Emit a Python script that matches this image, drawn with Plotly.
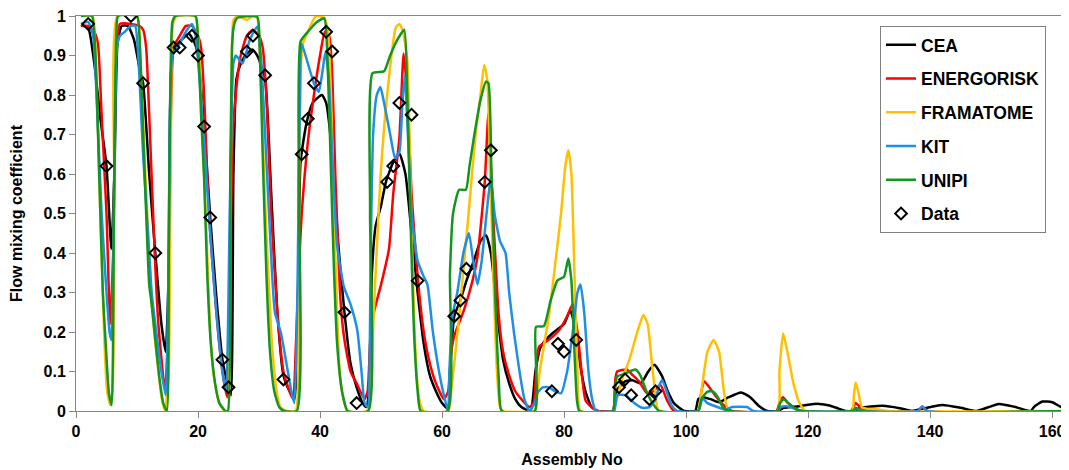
import plotly.graph_objects as go

# ---------------- data ----------------
cea_x = [0.8, 2, 3, 4, 5, 5.8, 6.3, 6.8, 7.5, 8.5, 9.5, 10.5, 11, 12, 13, 14, 14.7,
         15.2, 15.8, 17, 18.5, 19.5, 20, 21, 22, 23, 24, 25, 25.4,
         25.8, 26.3, 27, 28, 28.9, 29.5, 30, 31, 32, 33, 34, 35, 35.8,
         36.2, 36.8, 37.8, 38.8, 40.3, 41, 42, 43, 44, 45, 46, 47, 47.6,
         48, 48.5, 49.1, 50, 50.8, 52, 53, 54, 55, 56, 57, 58, 59, 60, 61,
         61.3, 62, 63, 64, 65.2, 66.3, 67.2, 68, 69.1, 70, 71, 72, 73, 74.5,
         75.3, 76.1, 77, 78.1, 80, 81, 82, 82.7, 83.5, 84.5, 85.5,
         88, 88.5, 89, 90, 91.2, 92.6, 93.8, 94.8, 96, 97, 98, 99.7,
         101.5, 102, 102.7, 104, 105.4, 107, 109, 110.5, 112, 113.3,
         115, 116, 118.5, 120, 121.8, 123.5, 125, 126.2,
         127.5, 128.5, 132.2, 135, 137, 138, 142, 145, 147.5,
         148.5, 151.3, 154, 156.5, 157, 158.4, 160, 161.5, 163]
cea_y = [0.977, 0.97, 0.88, 0.74, 0.62, 0.41, 0.6, 0.93, 0.975, 0.975, 0.94, 0.86, 0.83, 0.6, 0.40, 0.22, 0.15,
         0.35, 0.9, 0.935, 0.955, 0.93, 0.90, 0.72, 0.49, 0.29, 0.13, 0.06, 0.04,
         0.6, 0.84, 0.88, 0.905, 0.915, 0.905, 0.89, 0.84, 0.55, 0.25, 0.09, 0.05, 0.03,
         0.1, 0.63, 0.73, 0.78, 0.80, 0.78, 0.65, 0.42, 0.25, 0.12, 0.06, 0.02, 0.01,
         0.05, 0.35, 0.467, 0.52, 0.58, 0.63, 0.652, 0.6, 0.45, 0.3, 0.17, 0.09, 0.05, 0.02, 0.005,
         0.1, 0.24, 0.28, 0.33, 0.38, 0.43, 0.445, 0.4, 0.24, 0.13, 0.07, 0.03, 0.01, 0.0,
         0.1, 0.16, 0.18, 0.197, 0.22, 0.255, 0.2, 0.112, 0.05, 0.01, 0.0,
         0.0, 0.05, 0.06, 0.075, 0.078, 0.07, 0.1, 0.117, 0.09, 0.05, 0.02, 0.0,
         0.0, 0.03, 0.035, 0.03, 0.022, 0.035, 0.047, 0.035, 0.012, 0.0,
         0.0, 0.008, 0.012, 0.016, 0.018, 0.014, 0.006, 0.0,
         0.0, 0.008, 0.013, 0.007, 0.0, 0.003, 0.015, 0.008, 0.0,
         0.004, 0.018, 0.01, 0.0, 0.01, 0.024, 0.022, 0.01, 0.004]

ene_x = [0.8, 2, 3, 3.6, 4.2, 5, 5.6, 6.1, 6.6, 7.2, 9, 10.4, 11, 11.5, 12, 12.9, 13.5, 14.6,
         15.1, 15.5, 16, 17, 18, 19, 20, 20.5, 21, 21.5, 22, 23, 24, 24.8,
         25.2, 25.7, 26.3, 27, 28, 29, 30, 30.6, 31.2, 32, 33, 34, 35, 35.6,
         36, 36.5, 37, 38, 39, 40, 40.8, 41.5, 42, 42.5, 43.4, 44, 45, 46, 47.3,
         47.8, 48.3, 48.9, 50, 51.3, 52, 53, 53.7, 54.3, 55, 56, 57, 58, 59, 60.3,
         61, 61.5, 62, 63.6, 65, 65.8, 67, 67.6, 68.2, 69.3, 70, 71, 72, 73, 74.3,
         75, 75.5, 75.9, 77.5, 79.2, 80.5, 81.4, 82.2, 83, 83.5, 84.5, 85.5,
         88, 88.4, 88.7, 90.3, 91.3, 92.3, 93.6, 94.6, 95.8, 96.8, 98,
         102, 102.5, 103, 103.8, 105, 106.5, 107.5,
         114.8, 115.4, 115.9, 116.7, 118, 119,
         127, 127.8, 128.8, 130, 138, 138.7, 139.5, 163]
ene_y = [0.975, 0.975, 0.96, 0.93, 0.75, 0.5, 0.22, 0.4, 0.9, 0.98, 0.98, 0.975, 0.965, 0.92, 0.75, 0.40, 0.22, 0.05,
         0.2, 0.7, 0.92, 0.95, 0.975, 0.975, 0.95, 0.92, 0.8, 0.6, 0.45, 0.25, 0.1, 0.035,
         0.3, 0.7, 0.82, 0.9, 0.95, 0.965, 0.95, 0.92, 0.8, 0.5, 0.25, 0.1, 0.05, 0.03,
         0.15, 0.35, 0.5, 0.68, 0.8, 0.9, 0.96, 0.95, 0.85, 0.6, 0.27, 0.18, 0.1, 0.07, 0.03,
         0.05, 0.2, 0.255, 0.32, 0.41, 0.55, 0.69, 0.905, 0.8, 0.55, 0.34, 0.2, 0.12, 0.07, 0.03,
         0.05, 0.15, 0.19, 0.256, 0.33, 0.39, 0.58, 0.754, 0.55, 0.24, 0.15, 0.09, 0.05, 0.03, 0.01,
         0.02, 0.12, 0.163, 0.18, 0.205, 0.24, 0.27, 0.2, 0.08, 0.028, 0.01, 0.0,
         0.0, 0.08, 0.1, 0.105, 0.09, 0.075, 0.045, 0.05, 0.066, 0.03, 0.0,
         0.0, 0.05, 0.075, 0.06, 0.035, 0.01, 0.0,
         0.0, 0.025, 0.035, 0.02, 0.005, 0.0,
         0.0, 0.02, 0.005, 0.0, 0.0, 0.011, 0.0, 0.0]

fra_x = [0.8, 2.7, 3.2, 3.8, 4.6, 5.1, 5.6, 6.0, 6.3, 6.8, 10, 10.5, 11.4, 12.4, 13.3, 14, 14.6,
         15.2, 15.5, 15.9, 16.5, 19.5, 20, 20.5, 21, 21.5, 22, 22.5, 23, 23.5, 24.3, 24.9,
         25.1, 25.5, 25.8, 26.5, 28, 29, 29.7, 30.2, 30.6, 31.2, 32, 32.5, 33, 33.5, 34.5, 36,
         36.4, 36.8, 37.2, 38, 39.3, 40.7, 41.3, 41.8, 42.3, 42.8, 43.3, 44, 44.5, 47.8,
         48.5, 48.9, 49.9, 51, 52.4, 53, 53.6, 54.3, 54.8, 55.3, 55.8, 56.4, 57, 61,
         61.5, 62.8, 64.2, 65.5, 66.3, 66.9, 67.4, 67.9, 68.5, 69, 69.5, 70, 75.2,
         75.4, 76, 77.5, 79.5, 80.2, 80.7, 81.2, 81.7, 82.2, 82.7, 88,
         88.5, 89.5, 90.7, 92, 93, 93.7, 94.4, 95, 95.5, 101.9,
         102.5, 103.5, 104.5, 105.4, 106.2, 107, 115,
         115.3, 115.9, 116.6, 117.6, 118.6, 119.6, 127.2,
         127.5, 127.8, 128.2, 128.8, 130, 131.5, 133, 163]
fra_y = [1.0, 1.0, 0.9, 0.6, 0.2, 0.05, 0.015, 0.05, 0.55, 1.0, 1.0, 0.9, 0.59, 0.28, 0.13, 0.036, 0.0,
         0.1, 0.6, 0.98, 1.0, 1.0, 0.95, 0.8, 0.6, 0.4, 0.2, 0.1, 0.05, 0.02, 0.0, 0.0,
         0.2, 0.8, 0.99, 1.0, 0.99, 1.0, 0.995, 0.9, 0.7, 0.45, 0.2, 0.1, 0.04, 0.01, 0.0, 0.0,
         0.3, 0.85, 0.93, 0.96, 1.0, 0.995, 0.96, 0.8, 0.5, 0.25, 0.08, 0.02, 0.0, 0.0,
         0.15, 0.28, 0.59, 0.80, 0.97, 0.98, 0.96, 0.89, 0.6, 0.3, 0.1, 0.02, 0.0, 0.0,
         0.05, 0.24, 0.475, 0.7, 0.8, 0.876, 0.84, 0.6, 0.3, 0.1, 0.01, 0.0, 0.0,
         0.01, 0.1, 0.24, 0.5, 0.62, 0.66, 0.6, 0.35, 0.1, 0.0, 0.0,
         0.02, 0.08, 0.13, 0.2, 0.243, 0.22, 0.12, 0.04, 0.0, 0.0,
         0.05, 0.15, 0.18, 0.15, 0.05, 0.0, 0.0,
         0.1, 0.197, 0.15, 0.07, 0.02, 0.0, 0.0,
         0.04, 0.072, 0.05, 0.01, 0.005, 0.004, 0.0, 0.0]

kit_x = [0.8, 2, 2.8, 3.5, 4.2, 5, 5.5, 5.8, 6.2, 6.7, 7.2, 8, 9, 9.7, 10.2, 11, 12, 12.4, 13, 14, 14.7,
         15.2, 15.8, 17, 18, 19, 19.6, 20.3, 21, 22, 23, 24, 24.6,
         25.2, 25.8, 26.2, 27.3, 28.5, 29.7, 30.3, 31, 31.8, 32.6, 33.6, 34.5, 35.3, 35.8,
         36.3, 36.8, 37, 38, 39, 39.8, 40.4, 40.9, 41.4, 42, 42.8, 43.9, 45, 46.1, 46.8, 47.3,
         47.8, 48.3, 48.7, 49.3, 49.9, 50.5, 51.5, 52.3, 53, 53.5, 53.9, 54.4, 55, 56, 57, 57.6, 58.5, 59.5, 60.3, 61,
         61.2, 61.7, 62.5, 63.5, 64.4, 65.1, 65.8, 66.5, 67.3, 68, 68.6, 69.5, 70.4, 71, 71.8, 72.8, 73.5, 74.3,
         75.2, 75.6, 76.5, 77.5, 78.5, 79.5, 80.5, 81.4, 82.2, 82.7, 83.3, 84, 84.6, 85.2,
         88.2, 88.7, 90.1, 91.5, 92.8, 94, 95, 95.6, 96.1, 96.8, 97.6, 98.5,
         102, 102.7, 103.5, 105.5, 106.5, 107.5, 110, 111,
         115, 115.5, 116.5, 118, 119, 127.5, 128, 129, 138, 138.7, 139.5, 163]
kit_y = [0.98, 0.985, 0.95, 0.75, 0.5, 0.3, 0.2, 0.18, 0.5, 0.92, 0.95, 0.96, 0.975, 0.975, 0.9, 0.65, 0.4, 0.3, 0.22, 0.1, 0.04,
         0.4, 0.9, 0.93, 0.96, 0.98, 0.95, 0.83, 0.68, 0.45, 0.25, 0.1, 0.05,
         0.5, 0.88, 0.90, 0.88, 0.94, 0.973, 0.9, 0.7, 0.45, 0.25, 0.197, 0.12, 0.05, 0.02,
         0.3, 0.9, 0.93, 0.88, 0.83, 0.808, 0.86, 0.91, 0.85, 0.65, 0.42, 0.315, 0.27, 0.205, 0.1, 0.02,
         0.01, 0.4, 0.7, 0.8, 0.82, 0.78, 0.7, 0.64, 0.656, 0.78, 0.85, 0.7, 0.5, 0.38, 0.34, 0.32, 0.2, 0.1, 0.04, 0.0,
         0.1, 0.24, 0.3, 0.4, 0.45, 0.38, 0.32, 0.38, 0.5, 0.593, 0.5, 0.43, 0.40, 0.3, 0.197, 0.09, 0.03, 0.0,
         0.02, 0.045, 0.06, 0.06, 0.05, 0.045, 0.1, 0.197, 0.3, 0.32, 0.25, 0.1, 0.03, 0.0,
         0.0, 0.04, 0.04, 0.02, 0.008, 0.01, 0.03, 0.065, 0.078, 0.05, 0.015, 0.0,
         0.0, 0.032, 0.02, 0.008, 0.003, 0.01, 0.01, 0.0,
         0.0, 0.01, 0.012, 0.005, 0.0, 0.0, 0.006, 0.0, 0.0, 0.012, 0.0, 0.0]

uni_x = [0.8, 2.6, 3.2, 3.8, 4.4, 4.87, 5.4, 5.85, 6.2, 6.6, 6.9, 10, 10.4, 10.9, 11.5, 12, 12.4, 13, 13.7, 14.3, 14.9,
         15.2, 15.5, 15.8, 16.3, 19.6, 20, 20.5, 21, 21.5, 22.1, 22.8, 23.5, 24.5, 24.9,
         25.3, 25.6, 25.9, 26.4, 29.7, 30.1, 30.6, 31.2, 31.8, 32.5, 33.3, 34.1, 36.2,
         36.5, 36.8, 38, 39.5, 40.7, 41.2, 41.8, 42.3, 42.8, 43.5, 43.9, 44.5, 47.9,
         48.2, 48.6, 50.5, 51.5, 52.5, 53.8, 54.3, 54.8, 55.4, 56, 56.5, 60.9,
         61.3, 61.8, 62.8, 63.9, 64.5, 65.3, 66.3, 67.2, 67.6, 68.1, 68.7, 69.3, 69.8, 75.2,
         75.4, 76.7, 77.8, 78.9, 80, 80.7, 81.2, 81.7, 82.1, 82.5, 88,
         88.3, 88.7, 90, 91.7, 92.5, 93.5, 94.5, 95.6, 102,
         102.5, 103.5, 104.3, 105.2, 106, 107, 115,
         115.4, 116, 116.8, 118, 119, 127.3, 127.8, 128.6, 163]
uni_y = [1.0, 1.0, 0.9, 0.6, 0.3, 0.17, 0.045, 0.015, 0.51, 0.95, 1.0, 1.0, 0.95, 0.75, 0.5, 0.32, 0.27, 0.18, 0.08, 0.02, 0.0,
         0.4, 0.85, 0.985, 1.0, 1.0, 0.93, 0.75, 0.59, 0.35, 0.17, 0.07, 0.02, 0.0, 0.0,
         0.6, 0.93, 0.977, 0.995, 0.998, 0.92, 0.65, 0.35, 0.15, 0.05, 0.01, 0.0, 0.0,
         0.6, 0.935, 0.96, 0.985, 0.994, 0.9, 0.6, 0.35, 0.17, 0.06, 0.028, 0.0, 0.0,
         0.5, 0.855, 0.86, 0.9, 0.935, 0.965, 0.8, 0.5, 0.2, 0.05, 0.0, 0.0,
         0.35, 0.5, 0.56, 0.56, 0.62, 0.7, 0.787, 0.834, 0.83, 0.6, 0.3, 0.08, 0.0, 0.0,
         0.213, 0.215, 0.28, 0.33, 0.34, 0.386, 0.33, 0.15, 0.03, 0.0, 0.0,
         0.05, 0.087, 0.095, 0.105, 0.09, 0.05, 0.02, 0.0, 0.0,
         0.03, 0.049, 0.05, 0.035, 0.01, 0.0, 0.0,
         0.02, 0.03, 0.02, 0.005, 0.0, 0.0, 0.008, 0.0, 0.0]

data_x = [2, 5, 9, 11, 13, 16, 17, 19, 20, 21, 22, 24, 25, 28, 29, 31, 34, 37, 38, 39, 41, 42,
          44, 46, 51, 52, 53, 55, 56, 62, 63, 64, 67, 68, 78, 79, 80, 82, 89, 90, 91, 94, 95]
data_y = [0.98, 0.62, 1.0, 0.83, 0.40, 0.92, 0.92, 0.95, 0.90, 0.72, 0.49, 0.13, 0.06, 0.91, 0.95,
          0.85, 0.08, 0.65, 0.74, 0.83, 0.96, 0.91, 0.25, 0.02, 0.58, 0.62, 0.78, 0.75, 0.33,
          0.24, 0.28, 0.36, 0.58, 0.66, 0.05, 0.17, 0.15, 0.18, 0.06, 0.08, 0.04, 0.03, 0.05]

series = [("CEA", cea_x, cea_y, "#000000"),
          ("ENERGORISK", ene_x, ene_y, "#ff0000"),
          ("FRAMATOME", fra_x, fra_y, "#ffc000"),
          ("KIT", kit_x, kit_y, "#1f8fe5"),
          ("UNIPI", uni_x, uni_y, "#14961e")]

x_ticks = [0, 20, 40, 60, 80, 100, 120, 140, 160]
y_ticks = [0, 0.1, 0.2, 0.3, 0.4, 0.5, 0.6, 0.7, 0.8, 0.9, 1]

# ---------------- figure ----------------
fig = go.Figure()
for name, xs, ys, col in series:
    fig.add_trace(go.Scatter(x=xs, y=ys, name=name, mode="lines", legendgroup=name,
                             line=dict(color=col, width=2.5, shape="spline", smoothing=0.5)))
fig.add_trace(go.Scatter(x=data_x, y=data_y, name="Data", mode="markers", legendgroup="Data",
                         marker=dict(symbol="diamond-open", size=9, color="#000000",
                                     line=dict(width=2, color="#000000"))))

font_b = dict(family="Liberation Sans, Arial, sans-serif", size=16, color="#000000", weight="bold")
axis_col = "#868686"

# the page body adds an 8 px offset, so the figure is sized to fit the window
fig.update_layout(
    width=1061, height=462,
    margin=dict(l=68, r=1, t=8, b=59),
    paper_bgcolor="white", plot_bgcolor="white",
    showlegend=True,
    legend=dict(x=0.8105, y=0.975, xanchor="left", yanchor="top",
                bordercolor="#808080", borderwidth=1, bgcolor="white",
                font=dict(family="Liberation Sans, Arial, sans-serif", size=17.5,
                          color="#000000", weight="bold"),
                traceorder="grouped", tracegroupgap=8, itemwidth=30),
    xaxis=dict(range=[0, 162.6], tickvals=x_ticks, showgrid=False, zeroline=False,
               showline=True, linecolor=axis_col, linewidth=1, mirror=True,
               ticks="outside", ticklen=6, tickcolor=axis_col, tickfont=font_b,
               automargin=False, ticklabeloverflow="allow",
               title=dict(text="Assembly No", font=font_b, standoff=14)),
    yaxis=dict(range=[0, 1], tickvals=y_ticks, showgrid=False, zeroline=False,
               showline=True, linecolor=axis_col, linewidth=1,
               ticks="outside", ticklen=6, tickcolor=axis_col, tickfont=font_b,
               automargin=False, ticklabeloverflow="allow",
               title=dict(text="Flow mixing coefficient", font=font_b, standoff=16)),
)

fig.write_html("out.html")
